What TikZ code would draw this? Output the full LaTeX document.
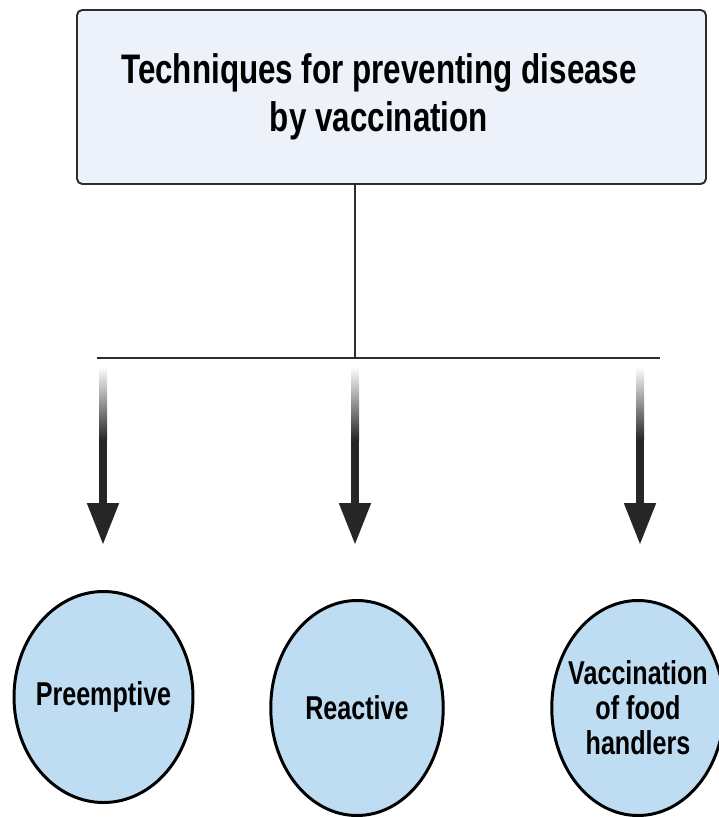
\documentclass[tikz,border=0pt]{standalone}
\usepackage{fontspec}
\setmainfont{Liberation Sans}[FakeStretch=0.76]
\usepackage{tikz}
\usetikzlibrary{shapes.geometric, arrows.meta, positioning, calc}
\definecolor{boxfill}{RGB}{237, 242, 250}
\definecolor{ovalfill}{RGB}{190, 221, 243}
\definecolor{lineink}{RGB}{45, 45, 45}

\begin{document}
\begin{tikzpicture}[
      head/.style={rounded corners=3pt, draw=lineink, line width=1.1pt,
                   fill=boxfill, minimum width=12.58cm, minimum height=3.48cm},
      headtext/.style={align=center, inner sep=0pt,
                   font=\bfseries\fontsize{23.5}{27}\selectfont},
      oval/.style={ellipse, draw=black, line width=1.7pt, fill=ovalfill,
                   minimum width=3.45cm, minimum height=4.3cm,
                   inner xsep=-0.35cm, inner ysep=0pt,
                   align=center, font=\bfseries\fontsize{18.8}{20}\selectfont},
      link/.style={draw=lineink, line width=1.1pt},
      down/.style={draw=black!85, line width=0.16cm,
                   -{Triangle[width=0.6cm, length=0.84cm]}}
    ]
    \useasboundingbox (0,0) rectangle (14.38,-16.34);
    \node[head] (title) at (7.83,-1.94) {};
    \node[headtext] (titletext) at ($(title.center)+(-0.25,0)$)
      {Techniques for preventing disease\\by vaccination};
    \coordinate (hub) at (7.10,-7.16);
    \coordinate (lend) at (1.94,-7.16);
    \coordinate (rend) at (13.20,-7.16);
    \draw[link] (title.south -| hub) -- (hub);
    \draw[link] (lend) -- (rend);
    \node[oval, minimum width=3.58cm, minimum height=4.22cm]
      (pre) at (2.07,-13.94) {Preemptive};
    \node[oval] (rea) at (7.14,-14.16) {Reactive};
    \node[oval] (food) at (12.76,-14.16) {Vaccination\\of food\\handlers};
    % fading arrows
    \foreach \x/\n in {2.06/a, 7.10/b, 12.80/c} {
      \coordinate (\n top) at (\x,-7.34);
      \coordinate (\n mid) at (\x,-8.80);
      \coordinate (\n tip) at (\x,-10.90);
      \shade[top color=white, bottom color=black!85]
        ($(\n top)+(-0.08,0)$) rectangle ($(\n mid)+(0.08,0)$);
      \draw[down] (\n mid) -- (\n tip);
    }
  \end{tikzpicture}
\end{document}
